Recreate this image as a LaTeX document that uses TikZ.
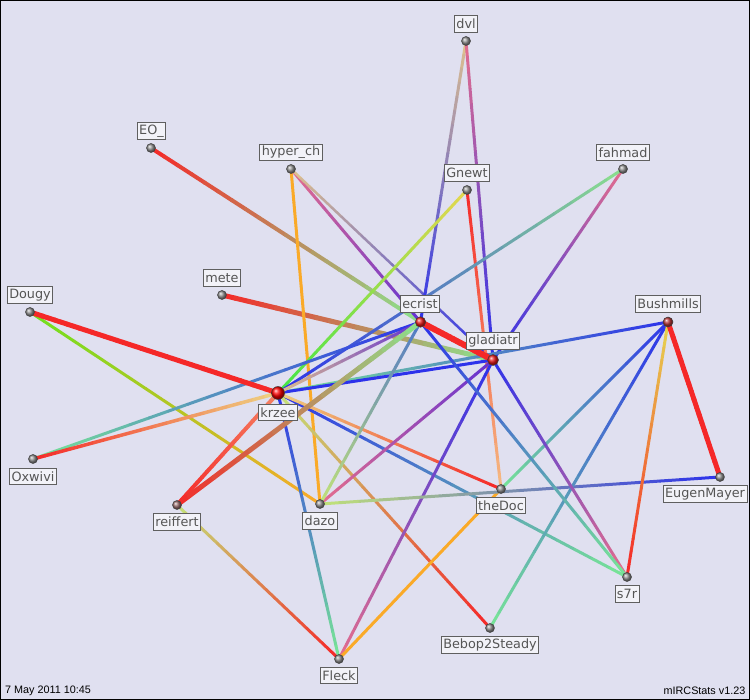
\documentclass[tikz,border=0pt]{standalone}
\usepackage{fontspec}
\setmainfont{DejaVu Sans}
\newfontfamily\stampfont{Liberation Sans}
\usetikzlibrary{calc,shadings}
\pgfdeclarelayer{back}
\pgfdeclarelayer{edges}
\pgfsetlayers{back,edges,main}
\definecolor{bgcol}{RGB}{224,224,240}
\definecolor{lblfill}{RGB}{242,242,248}
\definecolor{lbldraw}{RGB}{95,95,95}
\definecolor{lbltext}{RGB}{85,85,85}
\definecolor{cred}{RGB}{245,40,40}
\definecolor{cblue}{RGB}{45,50,235}
\definecolor{cpurp}{RGB}{100,50,210}
\definecolor{cpink}{RGB}{230,110,140}
\definecolor{ctan}{RGB}{225,195,140}
\definecolor{cpeach}{RGB}{245,185,130}
\definecolor{corange}{RGB}{250,170,40}
\definecolor{clgreen}{RGB}{140,225,140}
\definecolor{cgreen}{RGB}{70,230,70}
\definecolor{clime}{RGB}{110,225,30}
\definecolor{cyellow}{RGB}{230,215,80}
\definecolor{cpyellow}{RGB}{238,210,130}
\definecolor{cygreen}{RGB}{195,228,120}
\definecolor{csalmon}{RGB}{245,130,100}
\definecolor{csteel}{RGB}{80,120,200}
\definecolor{cmint}{RGB}{120,230,150}
\definecolor{redc}{RGB}{235,25,25}
\definecolor{bushc}{RGB}{185,55,55}
\definecolor{reifc}{RGB}{155,110,110}
\newcommand\gedge[5]{%
  \foreach \ii in {0,...,19}{%
    \pgfmathsetmacro\ta{\ii/20}%
    \pgfmathsetmacro\tb{(\ii+1)/20}%
    \pgfmathtruncatemacro\pc{100-(\ii+0.5)*5}%
    \draw[line width=#5, color=#3!\pc!#4, line cap=round] ($(#1)!\ta!(#2)$) -- ($(#1)!\tb!(#2)$);%
  }%
}
\tikzset{
  vtx/.style={circle, inner sep=0pt, minimum size=9pt, draw=black!75, line width=0.5pt, shading=ball, ball color=#1},
  vtx/.default=gray!85,
  lbl/.style={draw=lbldraw, fill=lblfill, text=lbltext, inner xsep=2pt, inner ysep=0pt, minimum height=16.5pt, font=\fontsize{12.8}{14}\selectfont, line width=0.9pt},
  stamp/.style={font=\stampfont\fontsize{10.8}{12}\selectfont, text=black, inner sep=0pt}
}
\begin{document}
\begin{tikzpicture}[x=1pt,y=-1pt]
\useasboundingbox (0,0) rectangle (750,700);
\begin{pgfonlayer}{back}
\fill[bgcol] (0,0) rectangle (750,700);
\draw[black,line width=1pt] (0.5,0.5) rectangle (749.5,699.5);
\end{pgfonlayer}
% vertices
\node[vtx] (dvl) at (466,41) {};
\node[vtx] (fahmad) at (623,169) {};
\node[vtx] (gnewt) at (467,190) {};
\node[vtx=redc, minimum size=10.5pt] (ecrist) at (420.5,322) {};
\node[vtx=bushc, minimum size=10pt] (bush) at (668,322) {};
\node[vtx=redc, minimum size=11pt] (glad) at (493,360) {};
\node[vtx] (eo) at (151,148) {};
\node[vtx] (hyper) at (291,169) {};
\node[vtx] (mete) at (222,295) {};
\node[vtx] (dougy) at (30,312) {};
\node[vtx=red, minimum size=13pt] (krzee) at (278,393) {};
\node[vtx] (oxwivi) at (33,459) {};
\node[vtx=reifc] (reiffert) at (177,505) {};
\node[vtx] (dazo) at (320,504) {};
\node[vtx] (fleck) at (339,659) {};
\node[vtx] (thedoc) at (501,489) {};
\node[vtx] (eugen) at (720,477) {};
\node[vtx] (s7r) at (627,577) {};
\node[vtx] (bebop) at (490,628) {};
% edges
\begin{pgfonlayer}{edges}
\gedge{eo}{ecrist}{cred}{clgreen}{4}
\gedge{mete}{glad}{cred}{clgreen}{5}
\gedge{hyper}{dazo}{corange}{corange}{3}
\gedge{hyper}{ecrist}{cpink}{cpurp}{3}
\gedge{hyper}{glad}{ctan}{cblue}{2.5}
\gedge{dvl}{ecrist}{ctan}{cblue}{3}
\gedge{dvl}{glad}{cpink}{cblue}{3}
\gedge{gnewt}{thedoc}{cred}{cpeach}{3}
\gedge{gnewt}{krzee}{cyellow}{cgreen}{3}
\gedge{fahmad}{glad}{cpink}{cblue}{3}
\gedge{fahmad}{krzee}{clgreen}{cblue}{3}
\gedge{bush}{krzee}{cblue}{cmint}{3}
\gedge{krzee}{glad}{cblue}{cblue}{3}
\gedge{dougy}{dazo}{clime}{corange}{3}
\gedge{oxwivi}{ecrist}{cmint}{cblue}{3}
\gedge{krzee}{fleck}{cblue}{cmint}{3}
\gedge{krzee}{s7r}{cblue}{cmint}{3}
\gedge{krzee}{bebop}{cygreen}{cred}{3}
\gedge{krzee}{thedoc}{cpyellow}{cred}{3}
\gedge{reiffert}{fleck}{cygreen}{cred}{3}
\gedge{fleck}{glad}{cpink}{cblue}{3}
\gedge{fleck}{thedoc}{corange}{corange}{3}
\gedge{dazo}{glad}{cpink}{cpurp}{3}
\gedge{dazo}{ecrist}{cygreen}{csteel}{3}
\gedge{dazo}{eugen}{cygreen}{cblue}{3}
\gedge{thedoc}{bush}{cmint}{cblue}{3}
\gedge{bebop}{bush}{cmint}{cblue}{3}
\gedge{bush}{s7r}{cyellow}{cred}{3}
\gedge{glad}{s7r}{cblue}{cpink}{3}
\gedge{ecrist}{s7r}{cblue}{cmint}{3}
\gedge{krzee}{ecrist}{ctan}{cpurp}{3}
\gedge{oxwivi}{krzee}{cred}{cpyellow}{3.5}
\gedge{reiffert}{krzee}{cred}{csalmon}{4}
\gedge{reiffert}{ecrist}{cred}{clgreen}{5}
\gedge{dougy}{krzee}{cred}{cred}{5}
\gedge{bush}{eugen}{cred}{cred}{5}
\gedge{ecrist}{glad}{cred}{cred}{6}
\end{pgfonlayer}
% labels
\node[lbl] (dvl-l) at (466,24) {dvl};
\node[lbl] (fahmad-l) at (623,152.5) {fahmad};
\node[lbl] (gnewt-l) at (467,173) {Gnewt};
\node[lbl] (ecrist-l) at (420,304) {ecrist};
\node[lbl] (bush-l) at (668,304) {Bushmills};
\node[lbl] (glad-l) at (493,341) {gladiatr};
\node[lbl] (eo-l) at (151.5,131) {EO\_};
\node[lbl] (hyper-l) at (291,152.5) {hyper\_ch};
\node[lbl] (mete-l) at (222,278) {mete};
\node[lbl] (dougy-l) at (30,295) {Dougy};
\node[lbl] (krzee-l) at (278,412.5) {krzee};
\node[lbl] (oxwivi-l) at (33,476.5) {Oxwivi};
\node[lbl] (reiffert-l) at (177,522) {reiffert};
\node[lbl] (dazo-l) at (320,521) {dazo};
\node[lbl] (fleck-l) at (339,675.5) {Fleck};
\node[lbl] (thedoc-l) at (501,505.5) {theDoc};
\node[lbl] (eugen-l) at (705,494) {EugenMayer};
\node[lbl] (s7r-l) at (627,594) {s7r};
\node[lbl] (bebop-l) at (490,645) {Bebop2Steady};
% footer
\node[stamp, anchor=west] (date) at (5,691) {7 May 2011 10:45};
\node[stamp, anchor=east] (ver) at (745.5,691) {mIRCStats v1.23};
\end{tikzpicture}
\end{document}
